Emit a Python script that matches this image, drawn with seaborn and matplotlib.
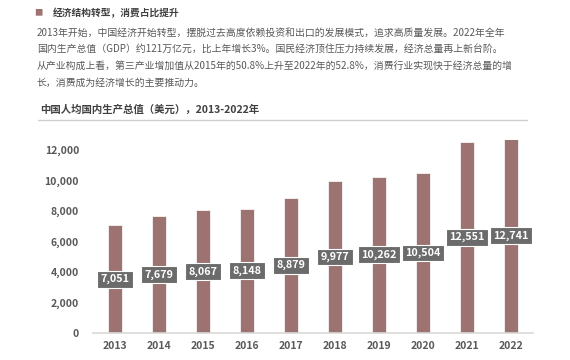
import matplotlib
matplotlib.use("Agg")
import matplotlib.pyplot as plt
import seaborn as sns
import pandas as pd

years = ["2013", "2014", "2015", "2016", "2017", "2018", "2019", "2020", "2021", "2022"]
gdp_per_capita = [7051, 7679, 8067, 8148, 8879, 9977, 10262, 10504, 12551, 12741]
yticks = [0, 2000, 4000, 6000, 8000, 10000, 12000]

header = "经济结构转型，消费占比提升"
para = [
    "2013年开始，中国经济开始转型，摆脱过去高度依赖投资和出口的发展模式，追求高质量发展。2022年全年",
    "国内生产总值（GDP）约121万亿元，比上年增长3%。国民经济顶住压力持续发展，经济总量再上新台阶。",
    "从产业构成上看，第三产业增加值从2015年的50.8%上升至2022年的52.8%，消费行业实现快于经济总量的增",
    "长，消费成为经济增长的主要推动力。",
]
chart_title = "中国人均国内生产总值（美元），2013-2022年"

sns.set_theme(style="white")
plt.rcParams['font.family'] = ['Noto Sans CJK SC', 'DejaVu Sans']

df = pd.DataFrame({"year": years, "value": gdp_per_capita})

W, H = 570, 360
fig = plt.figure(figsize=(5.7, 3.6), dpi=100)

x0, x1 = 93, 533
y_zero, y_top = 333, 150
ymax = 12000 * (y_zero - 140) / (y_zero - y_top)
ax = fig.add_axes([x0 / W, 1 - y_zero / H, (x1 - x0) / W, (y_zero - 140) / H])

bar_color = "#9C7371"
sns.barplot(data=df, x="year", y="value", color=bar_color, width=0.3,
            saturation=1, ax=ax, edgecolor="white", linewidth=0.5)
ax.set_ylim(0, ymax)
ax.set_xlim(-0.5, len(years) - 0.5)
ax.set_yticks(yticks)
ax.set_yticklabels([f"{v:,}" for v in yticks])
ax.set_xlabel("")
ax.set_ylabel("")
for s in ["top", "right", "left"]:
    ax.spines[s].set_visible(False)
ax.spines["bottom"].set_color("#D9D9D9")
ax.spines["bottom"].set_linewidth(1.2)
ax.tick_params(axis="both", length=0, labelsize=7.5, labelcolor="#595959")
ax.tick_params(axis="y", pad=10)
ax.tick_params(axis="x", pad=6)
for lab in ax.get_xticklabels() + ax.get_yticklabels():
    lab.set_fontweight("bold")

for i, v in enumerate(gdp_per_capita):
    ax.text(i, v / 2, f"{v:,}", ha="center", va="center", fontsize=7.8,
            color="white", fontweight="bold",
            bbox=dict(boxstyle="square,pad=0.3", facecolor="#6B6B6B",
                      edgecolor="white", linewidth=0.8))

fig.text(34 / W, 1 - 13 / H, "■", fontsize=6, color="#9C7371", va="center", ha="left")
fig.text(53 / W, 1 - 13 / H, header, fontsize=7, color="#404040",
         fontweight="bold", va="center", ha="left")
for k, line in enumerate(para):
    fig.text(37 / W, 1 - (32.5 + 16.7 * k) / H, line, fontsize=7.1, color="#595959",
             va="center", ha="left")

fig.text(40 / W, 1 - 110 / H, chart_title, fontsize=7.5, color="#404040",
         fontweight="bold", va="center", ha="left")
fig.add_artist(plt.Line2D([38 / W, 527 / W], [1 - 120 / H, 1 - 120 / H],
                          color="#D0D0D0", linewidth=1, transform=fig.transFigure))

fig.savefig("out.png", dpi=100)
